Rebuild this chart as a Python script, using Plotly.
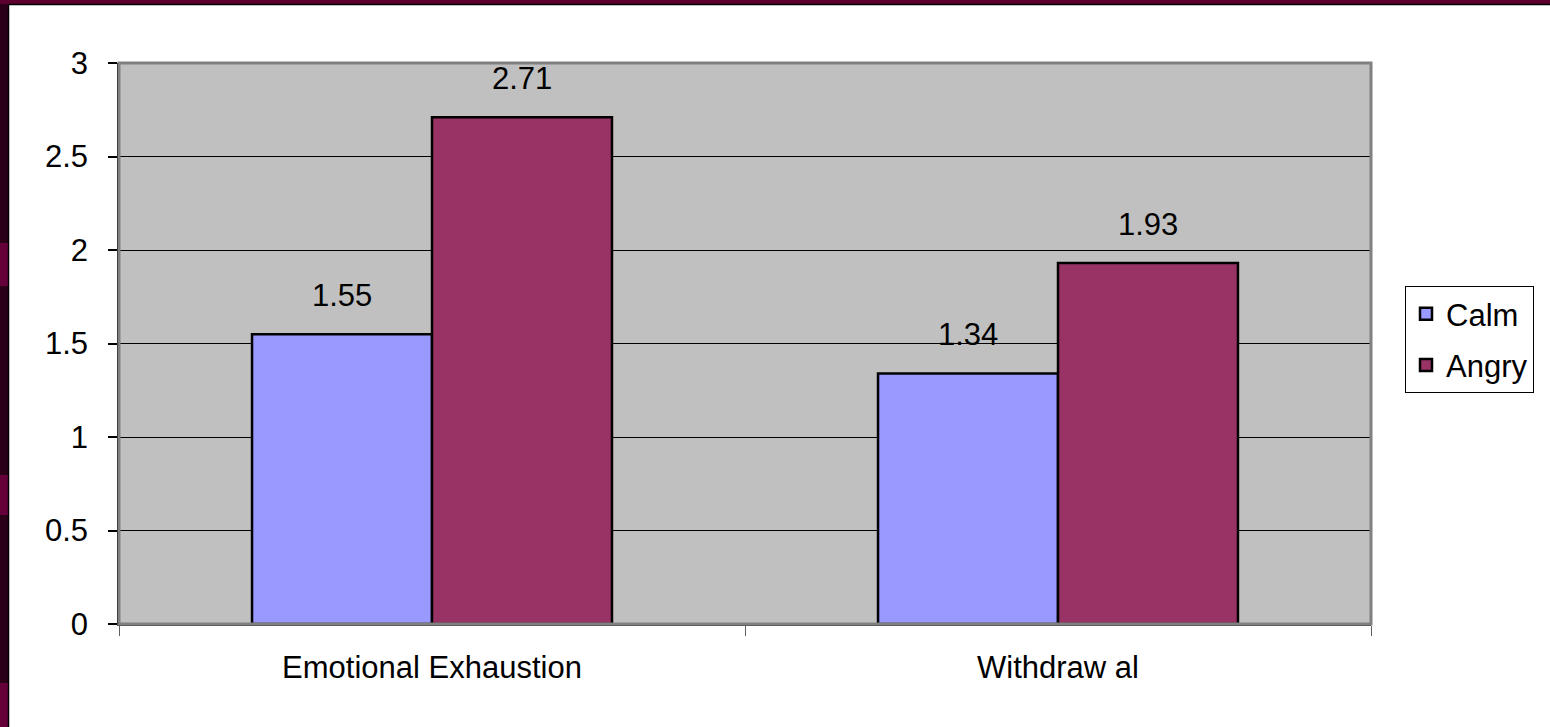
import plotly.graph_objects as go

# Data
categories = ["Emotional Exhaustion", "Withdraw al"]
calm_values = [1.55, 1.34]
angry_values = [2.71, 1.93]
series_names = ["Calm", "Angry"]
y_ticks = [0, 0.5, 1, 1.5, 2, 2.5, 3]
y_tick_labels = ["0", "0.5", "1", "1.5", "2", "2.5", "3"]

W, H = 1550, 727
ML, MR, MT, MB = 119, 179, 63, 103
PW, PH = W - ML - MR, H - MT - MB
FONT = "Liberation Sans, Arial, sans-serif"
FS = 31
BARGAP = 0.425


def px_x(p):
    return (p - ML) / PW


def px_y(p):
    return (H - MB - p) / PH


fig = go.Figure()
for name, vals, col in [(series_names[0], calm_values, "#9999ff"),
                        (series_names[1], angry_values, "#993366")]:
    fig.add_trace(go.Bar(
        x=categories, y=vals, name=name, legendgroup=name,
        marker=dict(color=col, line=dict(color="black", width=2.5)),
    ))

# value labels above each bar
cat_px = PW / len(categories)
bar_px = cat_px * (1 - BARGAP) / 2
for vals, sign in [(calm_values, -1), (angry_values, 1)]:
    for c, v in zip(categories, vals):
        fig.add_annotation(
            x=c, y=v, xref="x", yref="y", text=f"{v:.2f}", showarrow=False,
            yanchor="bottom", yshift=19, xshift=sign * bar_px / 2,
            font=dict(family=FONT, size=FS, color="black"),
        )

shapes = []
# plot-area border (grey top/right)
shapes.append(dict(type="rect", xref="paper", yref="paper", x0=0, x1=1, y0=0, y1=1,
                   line=dict(color="#808080", width=3), layer="above"))
# slide frame: dark strip on the left, maroon strip on top
shapes.append(dict(type="rect", xref="paper", yref="paper",
                   x0=px_x(0), x1=px_x(8), y0=px_y(H), y1=px_y(0),
                   fillcolor="#2b0019", line=dict(width=0)))
for y0, y1 in [(243, 286), (475, 515), (683, 727)]:
    shapes.append(dict(type="rect", xref="paper", yref="paper",
                       x0=px_x(0), x1=px_x(8), y0=px_y(y1), y1=px_y(y0),
                       fillcolor="#66003a", line=dict(width=0)))
shapes.append(dict(type="rect", xref="paper", yref="paper",
                   x0=px_x(0), x1=px_x(W), y0=px_y(4), y1=px_y(0),
                   fillcolor="#5c002f", line=dict(width=0)))
shapes.append(dict(type="line", xref="paper", yref="paper",
                   x0=px_x(8.5), x1=px_x(8.5), y0=px_y(H), y1=px_y(4),
                   line=dict(color="black", width=1.5)))
shapes.append(dict(type="line", xref="paper", yref="paper",
                   x0=px_x(8), x1=px_x(W), y0=px_y(4.5), y1=px_y(4.5),
                   line=dict(color="black", width=1.5)))

fig.update_layout(
    width=W, height=H,
    margin=dict(l=ML, r=MR, t=MT, b=MB),
    paper_bgcolor="white", plot_bgcolor="#c0c0c0",
    barmode="group", bargap=BARGAP, bargroupgap=0,
    font=dict(family=FONT, size=FS, color="black"),
    showlegend=True,
    legend=dict(
        x=px_x(1405), y=px_y(286), xanchor="left", yanchor="top",
        bordercolor="black", borderwidth=1, bgcolor="white",
        font=dict(family=FONT, size=FS, color="black"),
        tracegroupgap=8,
    ),
    shapes=shapes,
)
fig.update_xaxes(
    type="category", showgrid=False, showline=True, linecolor="#404040", linewidth=2,
    ticks="outside", tickson="boundaries", ticklen=10, tickcolor="#606060", tickwidth=1,
    ticklabelstandoff=15,
    tickfont=dict(family=FONT, size=FS, color="black"),
)
fig.update_yaxes(
    range=[0, 3], tickvals=y_ticks, ticktext=y_tick_labels,
    showgrid=True, gridcolor="black", gridwidth=1, zeroline=False,
    showline=True, linecolor="black", linewidth=1.5,
    ticks="outside", ticklen=9, tickcolor="black", tickwidth=1.5,
    ticklabelstandoff=14,
    tickfont=dict(family=FONT, size=FS, color="black"),
)

fig.write_html("out.html")
